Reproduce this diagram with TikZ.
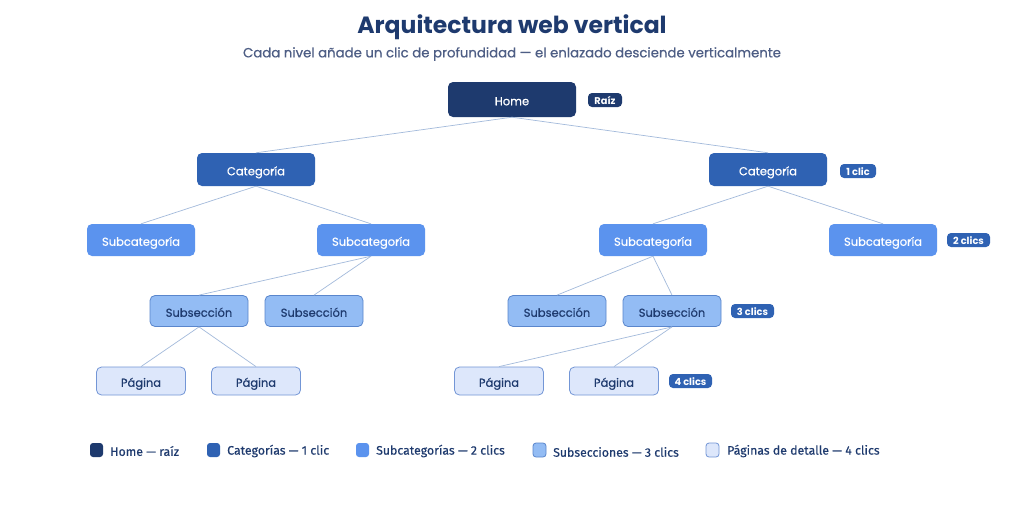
\documentclass[tikz,border=0pt]{standalone}
\usepackage{fontspec}
\setmainfont{Poppins}
\newfontfamily\medfont{Poppins}[FakeBold=0.6]
\newfontfamily\legfont{Fira Sans}[FakeBold=0.4]
\definecolor{navy}{HTML}{1E3A6E}
\definecolor{catc}{HTML}{2F62B3}
\definecolor{subc}{HTML}{5B93EE}
\definecolor{secf}{HTML}{93BCF4}
\definecolor{secd}{HTML}{5A86CC}
\definecolor{pagf}{HTML}{DDE7FB}
\definecolor{pagd}{HTML}{7396D6}
\definecolor{edgec}{HTML}{A3BADB}
\definecolor{subt}{HTML}{4E5E85}
\tikzset{
  box/.style={rounded corners=5pt, inner sep=0pt, align=center, text height=11.5pt, text depth=0pt, font=\medfont\fontsize{11.5}{13}\selectfont},
  homebox/.style={box, fill=navy, text=white, minimum width=128pt, minimum height=35pt},
  catbox/.style={box, fill=catc, text=white, minimum width=118pt, minimum height=33pt},
  subbox/.style={box, fill=subc, text=white, minimum width=108pt, minimum height=32pt},
  secbox/.style={box, fill=secf, draw=secd, line width=0.8pt, text=navy, minimum width=98pt, minimum height=31pt},
  pagbox/.style={box, fill=pagf, draw=pagd, line width=0.8pt, text=navy, minimum width=89pt, minimum height=28pt},
  badge/.style={rounded corners=4pt, fill=catc, text=white, inner sep=0pt, minimum height=14pt, text height=8pt, text depth=0pt, font=\fontsize{9.8}{10}\selectfont\bfseries},
  edge/.style={draw=edgec, line width=0.7pt},
  legsq/.style={rounded corners=3pt, minimum width=13pt, minimum height=14pt, inner sep=0pt},
  legtxt/.style={anchor=west, text=navy, inner sep=0pt, font=\legfont\fontsize{12.3}{14}\selectfont}
}
\begin{document}
\begin{tikzpicture}[x=1pt,y=-1pt]
\useasboundingbox (0,0) rectangle (1024,525);
\fill[white] (0,0) rectangle (1024,525);
\node[text=navy, font=\fontsize{23.5}{26}\selectfont\bfseries] (title) at (512,27) {Arquitectura web vertical};
\node[text=subt, font=\medfont\fontsize{13.3}{15}\selectfont] (subtitle) at (512,54) {Cada nivel añade un clic de profundidad — el enlazado desciende verticalmente};
% nodes
\node[homebox] (home) at (512,99.5) {Home};
\node[catbox] (cl) at (256,169.5) {Categoría};
\node[catbox] (cr) at (768,169.5) {Categoría};
\node[subbox] (s1) at (141,240) {Subcategoría};
\node[subbox] (s2) at (371,240) {Subcategoría};
\node[subbox] (s3) at (653,240) {Subcategoría};
\node[subbox] (s4) at (883,240) {Subcategoría};
\node[secbox] (e1) at (199,311) {Subsección};
\node[secbox] (e2) at (314,311) {Subsección};
\node[secbox] (e3) at (557,311) {Subsección};
\node[secbox] (e4) at (672,311) {Subsección};
\node[pagbox] (p1) at (141,381) {Página};
\node[pagbox] (p2) at (256,381) {Página};
\node[pagbox] (p3) at (499,381) {Página};
\node[pagbox] (p4) at (614,381) {Página};
% badges
\node[badge, fill=navy, minimum width=34pt] (b0) at (605,100) {Raíz};
\node[badge, minimum width=36pt] (b1) at (858,171) {1 clic};
\node[badge, minimum width=43pt] (b2) at (968.5,240) {2 clics};
\node[badge, minimum width=43pt] (b3) at (752.5,311) {3 clics};
\node[badge, minimum width=43pt] (b4) at (690.5,381) {4 clics};
% edges
\draw[edge] (home.south) -- (cl.north);
\draw[edge] (home.south) -- (cr.north);
\draw[edge] (cl.south) -- (s1.north);
\draw[edge] (cl.south) -- (s2.north);
\draw[edge] (cr.south) -- (s3.north);
\draw[edge] (cr.south) -- (s4.north);
\draw[edge] (s2.south) -- (e1.north);
\draw[edge] (s2.south) -- (e2.north);
\draw[edge] (s3.south) -- (e3.north);
\draw[edge] (s3.south) -- (e4.north);
\draw[edge] (e1.south) -- (p1.north);
\draw[edge] (e1.south) -- (p2.north);
\draw[edge] (e4.south) -- (p3.north);
\draw[edge] (e4.south) -- (p4.north);
% legend
\node[legsq, fill=navy] (l1) at (96.5,450) {};
\node[legtxt] (t1) at (110,451) {Home — raíz};
\node[legsq, fill=catc] (l2) at (213.5,450) {};
\node[legtxt] (t2) at (227,451) {Categorías — 1 clic};
\node[legsq, fill=subc] (l3) at (362.5,450) {};
\node[legtxt] (t3) at (376,451) {Subcategorías — 2 clics};
\node[legsq, fill=secf, draw=secd, line width=0.8pt] (l4) at (539.5,450) {};
\node[legtxt] (t4) at (553,452) {Subsecciones — 3 clics};
\node[legsq, fill=pagf, draw=pagd, line width=0.8pt] (l5) at (712.5,450) {};
\node[legtxt] (t5) at (727,451) {Páginas de detalle — 4 clics};
\end{tikzpicture}
\end{document}
